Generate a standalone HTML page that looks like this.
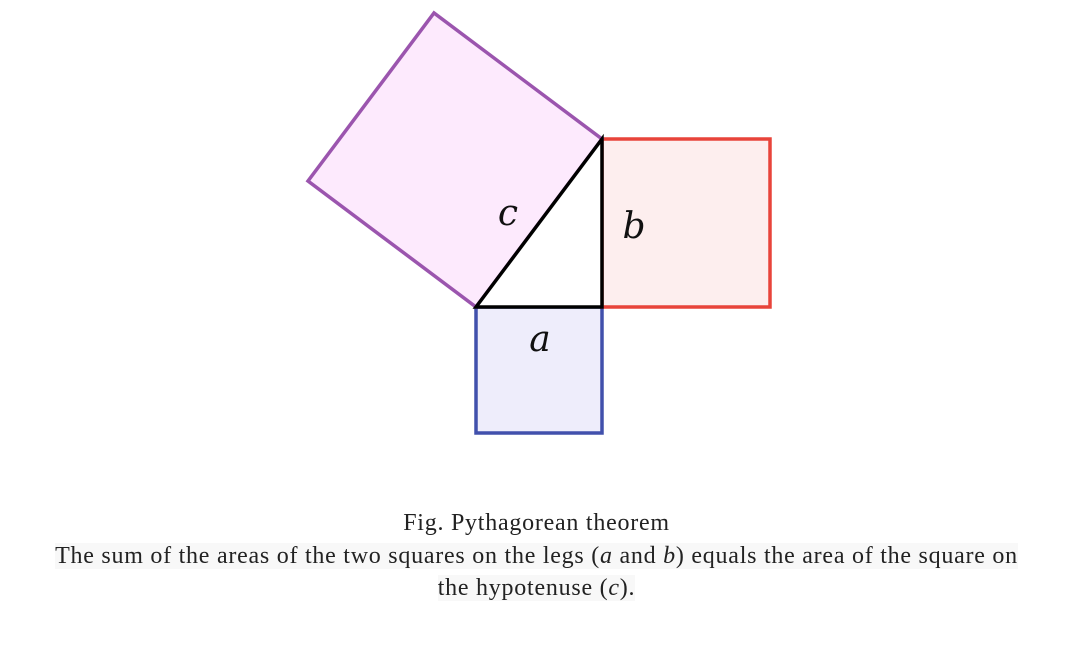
<!DOCTYPE html>
<html>
<head>
<meta charset="utf-8">
<style>
html,body{margin:0;padding:0;background:#fff;width:1073px;height:661px;overflow:hidden}
#fig{position:absolute;left:0;top:0}
.cap{position:absolute;left:0;width:1073px;text-align:center;font-family:"Liberation Serif",serif;font-size:24px;letter-spacing:0.75px;color:#222;line-height:32px}
.hl{background:#f8f8f8}
</style>
</head>
<body>
<svg id="fig" width="1073" height="480" viewBox="0 0 1073 480">
<g id="shapes"></g>
</svg>
<div class="cap" style="top:507px">Fig. Pythagorean theorem</div>
<div class="cap" style="top:540px"><span class="hl">The sum of the areas of the two squares on the legs (<i>a</i> and <i>b</i>) equals the area of the square on</span><br><span class="hl">the hypotenuse (<i>c</i>).</span></div>
<script>
const legLabels = ["a", "b"];
const legLengths = [126, 168];
const origin = [476, 307];
const NS = "http://www.w3.org/2000/svg";
const g = document.getElementById("shapes");
const a = legLengths[0], b = legLengths[1];
const A = origin, B = [origin[0] + a, origin[1]], C = [origin[0] + a, origin[1] - b];
function poly(pts, fill, stroke, name) {
  const p = document.createElementNS(NS, "polygon");
  p.setAttribute("points", pts.map(q => q.join(",")).join(" "));
  p.setAttribute("fill", fill);
  p.setAttribute("stroke", stroke);
  p.setAttribute("stroke-width", "3.5");
  p.setAttribute("stroke-linejoin", "miter");
  
  
  g.appendChild(p);
}
function label(txt, x, y, name) {
  const t = document.createElementNS(NS, "text");
  t.setAttribute("x", x); t.setAttribute("y", y);
  t.setAttribute("text-anchor", "middle");
  t.setAttribute("font-family", "DejaVu Serif, Liberation Serif, serif");
  t.setAttribute("font-style", "italic");
  t.setAttribute("font-size", "36");
  t.setAttribute("fill", "#111");
  t.textContent = txt;
  
  
  g.appendChild(t);
}
poly([A, B, [B[0], B[1] + a], [A[0], A[1] + a]], "#eeedfb", "#4150ac", "square-a");
poly([C, [C[0] + b, C[1]], [B[0] + b, B[1]], B], "#fdeeee", "#e8443a", "square-b");
const vx = C[0] - A[0], vy = C[1] - A[1];
const px = vy, py = -vx;
poly([A, C, [C[0] + px, C[1] + py], [A[0] + px, A[1] + py]], "#fdeafd", "#9b55ae", "square-c");
poly([A, B, C], "#ffffff", "#000000", "right-triangle");
label(legLabels[0], (A[0] + B[0]) / 2 + 1, A[1] + 44, "label-a");
label(legLabels[1], B[0] + 32, (B[1] + C[1]) / 2 + 15, "label-b");
label("c", (A[0] + C[0]) / 2 - 31, (A[1] + C[1]) / 2 + 2, "label-c");
</script>
</body>
</html>
